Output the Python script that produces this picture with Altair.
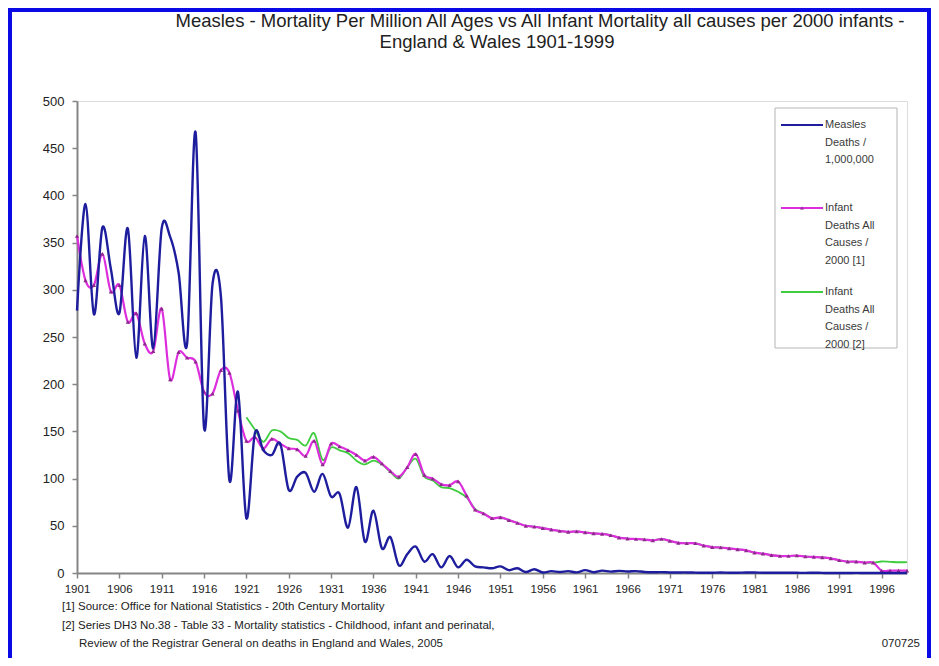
import altair as alt
import pandas as pd

# ---------------- data ----------------
years = list(range(1901, 2000))

measles = [
    278, 391, 274, 366, 322, 275, 365, 228, 357, 238,   # 1901-1910
    365, 356, 318, 243, 467, 154, 306, 292, 98, 192,    # 1911-1920
    58, 148, 130, 125, 137, 88, 102, 106, 86, 105,      # 1921-1930
    81, 84, 48, 91, 33, 66, 26, 38, 8, 20,              # 1931-1940
    28, 12, 20, 6, 18, 6, 14, 7, 6, 5,                  # 1941-1950
    7, 3, 5, 1, 4, 0.6, 2, 1, 2, 0.7,                   # 1951-1960
    3, 0.8, 2.5, 1.5, 2.3, 1.6, 2, 1.1, 0.8, 0.9,       # 1961-1970
    0.6, 0.6, 0.6, 0.4, 0.2, 0.3, 0.5, 0.3, 0.3, 0.5,   # 1971-1980
    0.5, 0.3, 0.3, 0.2, 0.2, 0.2, 0.1, 0.3, 0.1, 0.05,  # 1981-1990
    0.05, 0.05, 0.1, 0.05, 0.05, 0.05, 0.05, 0.05, 0.05 # 1991-1999
]

infant_1 = [
    357, 310, 305, 338, 298, 305, 266, 275, 243, 235,   # 1901-1910
    280, 205, 234, 228, 224, 192, 190, 215, 212, 172,   # 1911-1920
    140, 144, 132, 142, 137, 132, 131, 124, 140, 115,   # 1921-1930
    137, 134, 130, 125, 119, 123, 116, 108, 102, 112,   # 1931-1940
    126, 104, 100, 94, 93, 97, 82, 67, 63, 58,          # 1941-1950
    59, 56, 53, 50, 49, 47.5, 46, 44.5, 43.5, 44,       # 1951-1960
    43, 42, 41.5, 40, 37.5, 36.5, 36, 35.5, 34.5, 36,   # 1961-1970
    34, 32, 31.5, 31.5, 29, 27.5, 27, 26, 25, 24,       # 1971-1980
    21.5, 20.5, 19, 18, 18, 18.5, 17.5, 17, 16.5, 15.5, # 1981-1990
    13.5, 12, 12, 11, 11, 2.5, 2.5, 2.5, 2.5            # 1991-1999
]

years_2 = list(range(1921, 2000))
infant_2 = [
    165, 152, 139, 151, 150, 143, 141, 135, 148, 120,   # 1921-1930
    133, 130, 127, 119, 115, 119, 115, 107, 100, 112,   # 1931-1940
    121, 102, 98, 91, 90, 86, 80, 68, 63, 58,           # 1941-1950
    59, 56, 53, 50, 49, 47.5, 46, 44.5, 43.5, 44,       # 1951-1960
    43, 42, 41.5, 40, 37.5, 36.5, 36, 35.5, 34.5, 36,   # 1961-1970
    34, 32, 31.5, 31.5, 29, 27.5, 27, 26, 25, 24,       # 1971-1980
    21.5, 20.5, 19, 18, 18, 18.5, 17.5, 17, 16.5, 15.5, # 1981-1990
    13.5, 12, 12, 11, 11, 12.2, 11.8, 11.4, 11.6        # 1991-1999
]

x_tick_values = list(range(1901, 1997, 5))
y_tick_values = list(range(0, 501, 50))

title_lines = [
    "Measles - Mortality Per Million All Ages vs All Infant Mortality all causes per 2000 infants -",
    "England & Wales 1901-1999",
]
legend_labels = [
    ["Measles", "Deaths /", "1,000,000"],
    ["Infant", "Deaths All", "Causes /", "2000 [1]"],
    ["Infant", "Deaths All", "Causes /", "2000 [2]"],
]
footnotes = [
    "[1] Source: Office for National Statistics - 20th Century Mortality",
    "[2] Series DH3 No.38 - Table 33 - Mortality statistics - Childhood, infant and perinatal,",
    "Review of the Registrar General on deaths in England and Wales, 2005",
]
stamp = "070725"

# ---------------- styling ----------------
FONT = "Liberation Sans"
W, H = 830, 472
C_MEASLES = "#1d1d9e"
C_INF1 = "#dd2edd"
C_INF1_MARK = "#8c2a8c"
C_INF2 = "#3fcc3f"
C_AXIS = "#858585"
C_TEXT = "#222222"
C_LEG = "#3a3a3a"

xs = alt.Scale(domain=[1901, 1999], nice=False, zero=False)
ys = alt.Scale(domain=[0, 500], nice=False, zero=True)

df_m = pd.DataFrame({"year": years, "value": measles})
df_1 = pd.DataFrame({"year": years, "value": infant_1})
df_2 = pd.DataFrame({"year": years_2, "value": infant_2})

x_axis = alt.Axis(values=x_tick_values, format="d", grid=False, title=None,
                  labelFont=FONT, labelFontSize=11.5, labelColor=C_TEXT,
                  domainColor=C_AXIS, domainWidth=2, tickColor=C_AXIS,
                  tickSize=5, tickWidth=1.5, labelPadding=5, labelFlush=False)
y_axis = alt.Axis(values=y_tick_values, grid=False, title=None,
                  labelFont=FONT, labelFontSize=13, labelColor=C_TEXT,
                  domainColor=C_AXIS, domainWidth=2, tickColor=C_AXIS,
                  tickSize=5, tickWidth=1.5, labelPadding=8)

X = alt.X("year:Q", scale=xs, axis=x_axis)
Y = alt.Y("value:Q", scale=ys, axis=y_axis)

green = alt.Chart(df_2).mark_line(color=C_INF2, strokeWidth=1.8, interpolate="cardinal").encode(x=X, y=Y)
mag = alt.Chart(df_1).mark_line(color=C_INF1, strokeWidth=2.2, interpolate="cardinal").encode(x=X, y=Y)
mag_pts = alt.Chart(df_1).mark_point(shape="triangle-up", filled=True, size=18,
                                     color=C_INF1_MARK, opacity=1).encode(x=X, y=Y)
blue = alt.Chart(df_m).mark_line(color=C_MEASLES, strokeWidth=2.4, interpolate="cardinal").encode(x=X, y=Y)

one = alt.Data(values=[{"k": 1}])


def txt(s, x, y, size=11.5, align="left", color=C_TEXT):
    return alt.Chart(one).mark_text(text=s, font=FONT, fontSize=size, align=align,
                                    baseline="middle", color=color).encode(
        x=alt.value(x), y=alt.value(y))


def hrule(x1, x2, y, color, width):
    return alt.Chart(one).mark_rule(color=color, strokeWidth=width).encode(
        x=alt.value(x1), x2=alt.value(x2), y=alt.value(y))


def vrule(x, y1, y2, color, width):
    return alt.Chart(one).mark_rule(color=color, strokeWidth=width).encode(
        x=alt.value(x), y=alt.value(y1), y2=alt.value(y2))


layers = [green, mag, mag_pts, blue]
# outer blue frame
layers += [vrule(-67, -93, 560, "#0a0ae6", 4), hrule(-69, 854, -91, "#0a0ae6", 4),
           vrule(852, -93, 560, "#0a0ae6", 4)]
# title
layers += [txt(title_lines[0], 463, -80, size=18.5, align="center"),
           txt(title_lines[1], 420, -59, size=18.5, align="center")]
# legend
legend_box = alt.Chart(one).mark_rect(fill="white", stroke="#b5b5b5", strokeWidth=1).encode(
    x=alt.value(698), x2=alt.value(820), y=alt.value(7), y2=alt.value(247))
layers.append(legend_box)
legend_y = [24, 107, 191]
legend_colors = [C_MEASLES, C_INF1, C_INF2]
for lbl, ly, col in zip(legend_labels, legend_y, legend_colors):
    layers.append(hrule(704, 746, ly, col, 2))
    for i, line in enumerate(lbl):
        layers.append(txt(line, 748, ly + i * 17.5, size=11, color=C_LEG))
layers.append(alt.Chart(one).mark_point(shape="triangle-up", filled=True, size=18,
                                        color=C_INF1_MARK).encode(
    x=alt.value(725), y=alt.value(107)))
# footnotes
layers += [txt(footnotes[0], -15, 506, size=11.5),
           txt(footnotes[1], -15, 525, size=11.5),
           txt(footnotes[2], 2, 543, size=11.5),
           txt(stamp, 843, 543, size=11.5, align="right")]

chart = alt.layer(*layers).properties(
    width=W, height=H,
    autosize=alt.AutoSizeParams(type="none"),
    padding={"left": 69, "top": 93, "right": 24, "bottom": 85},
).configure_view(stroke="#9a9a9a", strokeWidth=1.5).configure(background="white")

chart.save("out.html", embed_options={"renderer": "svg", "actions": False})
